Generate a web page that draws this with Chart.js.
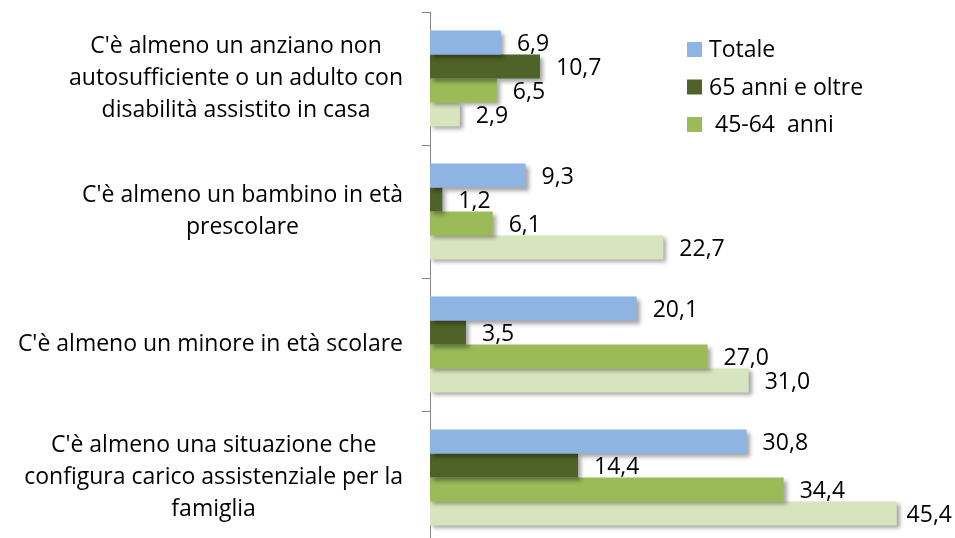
<!DOCTYPE html>
<html>
<head>
<meta charset="utf-8">
<script src="https://cdn.jsdelivr.net/npm/chart.js@4"></script>
<style>
  html, body { margin: 0; padding: 0; background: #fff; overflow: hidden; }
  #wrap { width: 955px; height: 538px; overflow: hidden; }
</style>
</head>
<body>
<div id="wrap"><canvas id="chart" width="955" height="552"></canvas></div>
<script>
// categories (top to bottom)
const categories = [
    ["C'è almeno un anziano non", "autosufficiente o un adulto con", "disabilità assistito in casa"],
    ["C'è almeno un bambino in età", "prescolare"],
    ["C'è almeno un minore in età scolare"],
    ["C'è almeno una situazione che", "configura carico assistenziale per la", "famiglia"],
];

// series values
const totale = [6.9, 9.3, 20.1, 30.8];
const anni65 = [10.7, 1.2, 3.5, 14.4];
const anni4564 = [6.5, 6.1, 27.0, 34.4];
const fino44 = [2.9, 22.7, 31.0, 45.4];

const seriesNames = ["Totale", "65 anni e oltre", " 45-64  anni", "Fino a 44 anni"];
const seriesColors = ["#8EB4E3", "#4F6228", "#9BBB59", "#D7E4BD"];
const legendShown = 3;

const FONT = "'Open Sans', Lato, sans-serif";
const fmt = (v) => v.toFixed(1).replace(".", ",");

// bar shadows
const shadowPlugin = {
    id: "barShadow",
    beforeDatasetsDraw(chart) {
        const ctx = chart.ctx;
        ctx.save();
        ctx.shadowColor = "rgba(0,0,0,0.35)";
        ctx.shadowBlur = 4;
        ctx.shadowOffsetX = 3;
        ctx.shadowOffsetY = 3;
    },
    afterDatasetsDraw(chart) {
        chart.ctx.restore();
    },
};

// value labels, category labels and legend
const textPlugin = {
    id: "texts",
    afterDraw(chart) {
        const ctx = chart.ctx;
        const yScale = chart.scales.y;
        ctx.save();
        ctx.fillStyle = "#000";
        ctx.font = "23px " + FONT;

        // value labels (pulled back in if they would leave the canvas)
        ctx.textAlign = "left";
        ctx.textBaseline = "middle";
        chart.data.datasets.forEach((ds, di) => {
            const meta = chart.getDatasetMeta(di);
            meta.data.forEach((bar, i) => {
                const txt = fmt(ds.data[i]);
                const w = ctx.measureText(txt).width;
                const x = Math.min(bar.x + 16, chart.width - w - 3);
                ctx.fillText(txt, x, bar.y + 2);
            });
        });

        // category labels
        const lineH = 32;
        const right = 403;
        ctx.textAlign = "center";
        categories.forEach((lines, i) => {
            const cy = yScale.getPixelForTick(i);
            const maxW = Math.max(...lines.map((l) => ctx.measureText(l).width));
            const cx = right - maxW / 2;
            const top = cy - ((lines.length - 1) * lineH) / 2;
            lines.forEach((l, k) => ctx.fillText(l, cx, top + k * lineH));
        });

        // legend
        ctx.textAlign = "left";
        for (let i = 0; i < legendShown; i++) {
            const y = 49.5 + i * 37.5;
            ctx.fillStyle = seriesColors[i];
            ctx.fillRect(687, y - 7.5, 15, 15);
            ctx.fillStyle = "#000";
            ctx.fillText(seriesNames[i], 709, y + 1);
        }
        ctx.restore();
    },
};

const series = [totale, anni65, anni4564, fino44];

new Chart(document.getElementById("chart"), {
    type: "bar",
    data: {
        labels: categories.map((c) => c.join(" ")),
        datasets: series.map((data, i) => ({
            label: seriesNames[i],
            data: data,
            backgroundColor: seriesColors[i],
            borderWidth: 0,
            categoryPercentage: 0.72,
            barPercentage: 1,
        })),
    },
    options: {
        indexAxis: "y",
        responsive: false,
        animation: false,
        layout: { padding: { top: 12, bottom: 8, left: 0, right: 11 } },
        plugins: {
            legend: { display: false },
            tooltip: { enabled: false },
        },
        scales: {
            x: { display: false, min: 0, max: 50 },
            y: {
                afterFit: (scale) => { scale.width = 430; },
                ticks: { display: false },
                grid: {
                    drawOnChartArea: false,
                    drawTicks: true,
                    tickLength: 8,
                    color: "#868686",
                },
                border: { color: "#868686", width: 1 },
            },
        },
    },
    plugins: [shadowPlugin, textPlugin],
});
</script>
</body>
</html>
